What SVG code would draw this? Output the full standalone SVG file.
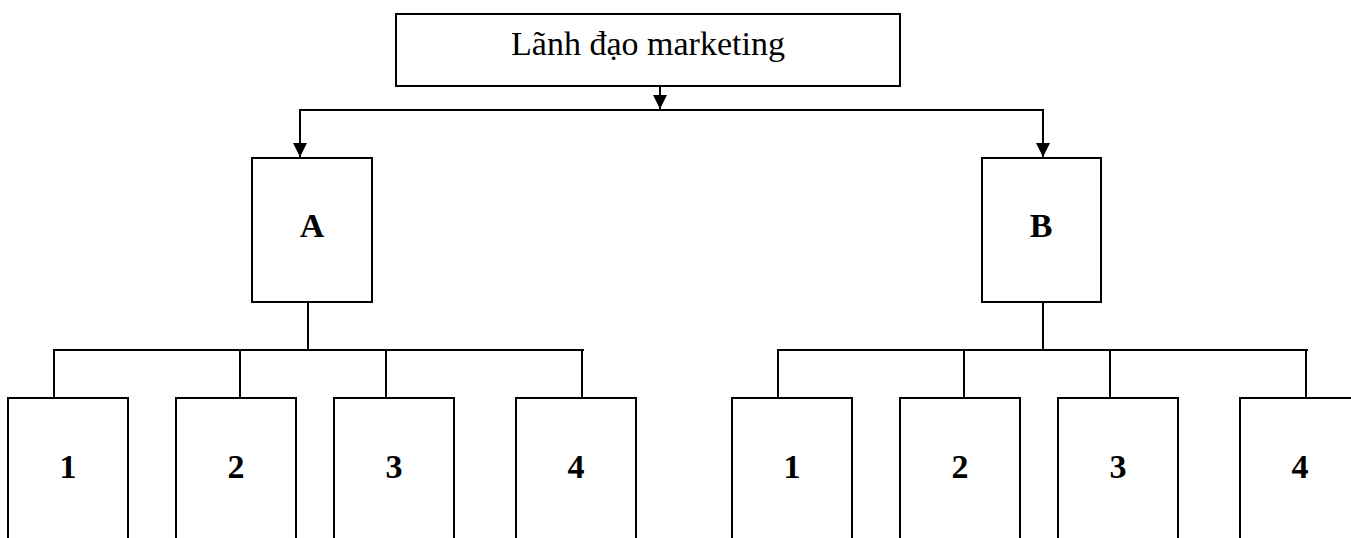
<svg xmlns="http://www.w3.org/2000/svg" width="1351" height="538" viewBox="0 0 1351 538">
<style>
rect.box{fill:#fff;stroke:#000;stroke-width:2}
.ln{fill:none;stroke:#000;stroke-width:2}
text{font-family:"Liberation Serif","Times New Roman",serif;fill:#000;text-anchor:middle}
.t{font-size:34px}
.b{font-size:34px;font-weight:bold}
</style>
<defs>
<marker id="ah" viewBox="0 0 14 14" refX="14" refY="7" markerWidth="14" markerHeight="14" markerUnits="userSpaceOnUse" orient="auto">
<path d="M0,0 L14,7 L0,14 Z" fill="#000"/>
</marker>
</defs>
<g id="connectors">
<line class="ln" x1="660" y1="86" x2="660" y2="109" marker-end="url(#ah)"/>
<polyline class="ln" points="300,157 300,110 1043,110 1043,157"/>
<line class="ln" x1="300" y1="110" x2="300" y2="157" marker-end="url(#ah)"/>
<line class="ln" x1="1043" y1="110" x2="1043" y2="157" marker-end="url(#ah)"/>
<line class="ln" x1="308" y1="302" x2="308" y2="350"/>
<polyline class="ln" points="54,398 54,350 584,350"/>
<line class="ln" x1="240" y1="350" x2="240" y2="398"/>
<line class="ln" x1="386" y1="350" x2="386" y2="398"/>
<line class="ln" x1="582" y1="350" x2="582" y2="398"/>
<line class="ln" x1="1043" y1="302" x2="1043" y2="350"/>
<polyline class="ln" points="778,398 778,350 1308,350"/>
<line class="ln" x1="964" y1="350" x2="964" y2="398"/>
<line class="ln" x1="1110" y1="350" x2="1110" y2="398"/>
<line class="ln" x1="1306" y1="350" x2="1306" y2="398"/>
</g>
<g id="top"><rect class="box" x="396" y="14" width="504" height="72"/><text class="t" x="648" y="55">Lãnh đạo marketing</text></g>
<g id="A"><rect class="box" x="252" y="158" width="120" height="144"/><text class="b" x="312" y="237">A</text></g>
<g id="B"><rect class="box" x="982" y="158" width="119" height="144"/><text class="b" x="1041" y="237">B</text></g>
<g id="A1"><rect class="box" x="8" y="398" width="120" height="160"/><text class="b" x="68" y="478">1</text></g>
<g id="A2"><rect class="box" x="176" y="398" width="120" height="160"/><text class="b" x="236" y="478">2</text></g>
<g id="A3"><rect class="box" x="334" y="398" width="120" height="160"/><text class="b" x="394" y="478">3</text></g>
<g id="A4"><rect class="box" x="516" y="398" width="120" height="160"/><text class="b" x="576" y="478">4</text></g>
<g id="B1"><rect class="box" x="732" y="398" width="120" height="160"/><text class="b" x="792" y="478">1</text></g>
<g id="B2"><rect class="box" x="900" y="398" width="120" height="160"/><text class="b" x="960" y="478">2</text></g>
<g id="B3"><rect class="box" x="1058" y="398" width="120" height="160"/><text class="b" x="1118" y="478">3</text></g>
<g id="B4"><rect class="box" x="1240" y="398" width="120" height="160"/><text class="b" x="1300" y="478">4</text></g>
</svg>
